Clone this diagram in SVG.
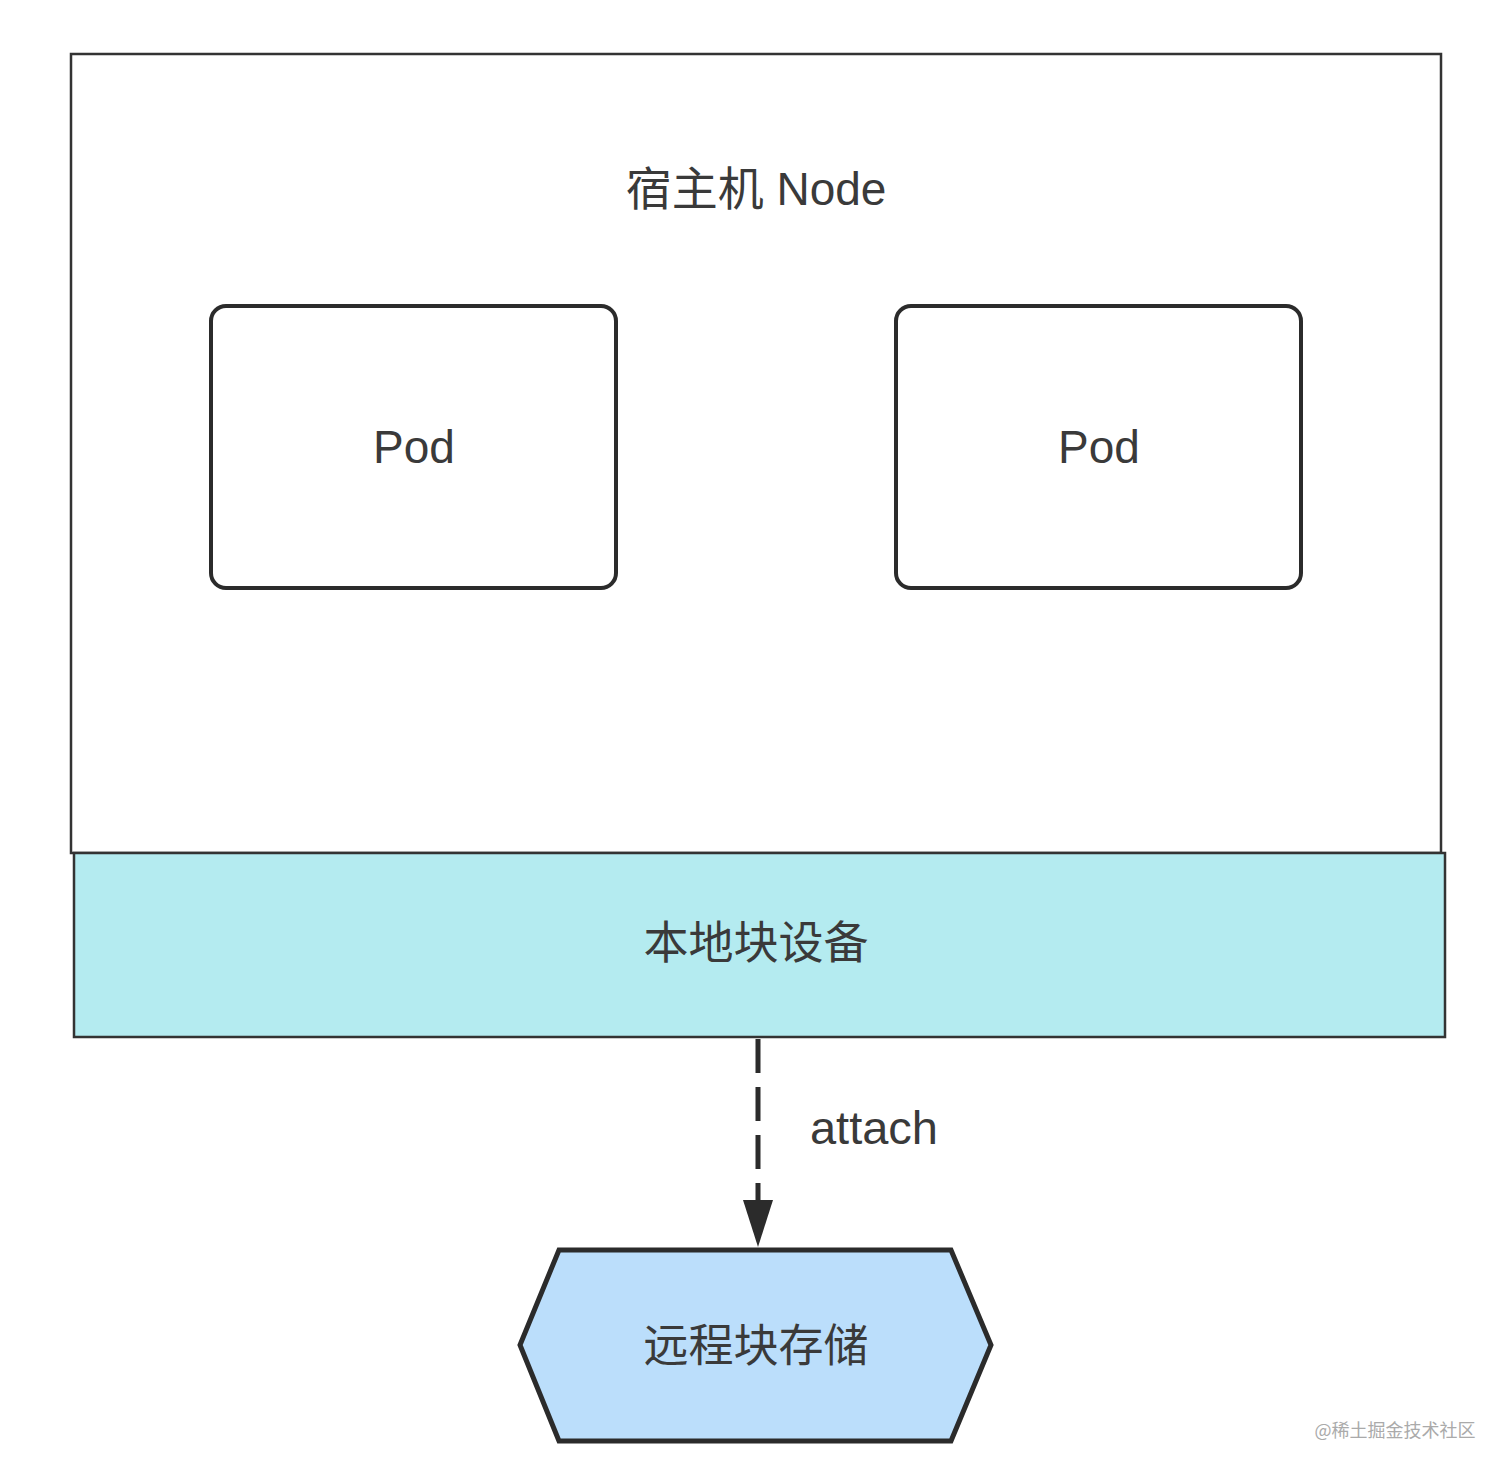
<svg xmlns="http://www.w3.org/2000/svg" width="1512" height="1477" viewBox="0 0 1512 1477">
<style>
.t{font-family:"Liberation Sans","Noto Sans CJK SC",sans-serif;fill:#3a3a3a;text-anchor:middle}
.pod{fill:#fff;stroke:#2b2b2b;stroke-width:4}
</style>
<rect width="1512" height="1477" fill="#fff"/>
<g id="node-host">
<rect x="71" y="54" width="1370" height="799" fill="#fff" stroke="#333" stroke-width="2.5"/>
<text class="t" x="756" y="205" font-size="46">宿主机 Node</text>
</g>
<g id="pod-1">
<rect class="pod" x="211" y="306" width="405" height="282" rx="15"/>
<text class="t" x="414" y="463" font-size="46">Pod</text>
</g>
<g id="pod-2">
<rect class="pod" x="896" y="306" width="405" height="282" rx="15"/>
<text class="t" x="1099" y="463" font-size="46">Pod</text>
</g>
<g id="local-block">
<rect x="74" y="853" width="1371" height="184" fill="#b4ebf0" stroke="#333" stroke-width="2.5"/>
<text class="t" x="756" y="959" font-size="45">本地块设备</text>
</g>
<g id="remote-storage">
<polygon points="559,1250 951,1250 991,1345 951,1441 559,1441 520,1345" fill="#bbdefb" stroke="#2b2b2b" stroke-width="5"/>
<text class="t" x="756" y="1362" font-size="45">远程块存储</text>
</g>
<g id="connectors">
<line x1="758" y1="1039" x2="758" y2="1205" stroke="#2b2b2b" stroke-width="5" stroke-dasharray="34,14"/>
<polygon points="743,1200 773,1200 758,1247" fill="#2b2b2b"/>
<text class="t" x="874" y="1144" font-size="47">attach</text>
</g>
<text x="1395" y="1437" font-family="'Noto Sans CJK SC',sans-serif" font-size="18" fill="#aaa" text-anchor="middle">@稀土掘金技术社区</text>
</svg>
